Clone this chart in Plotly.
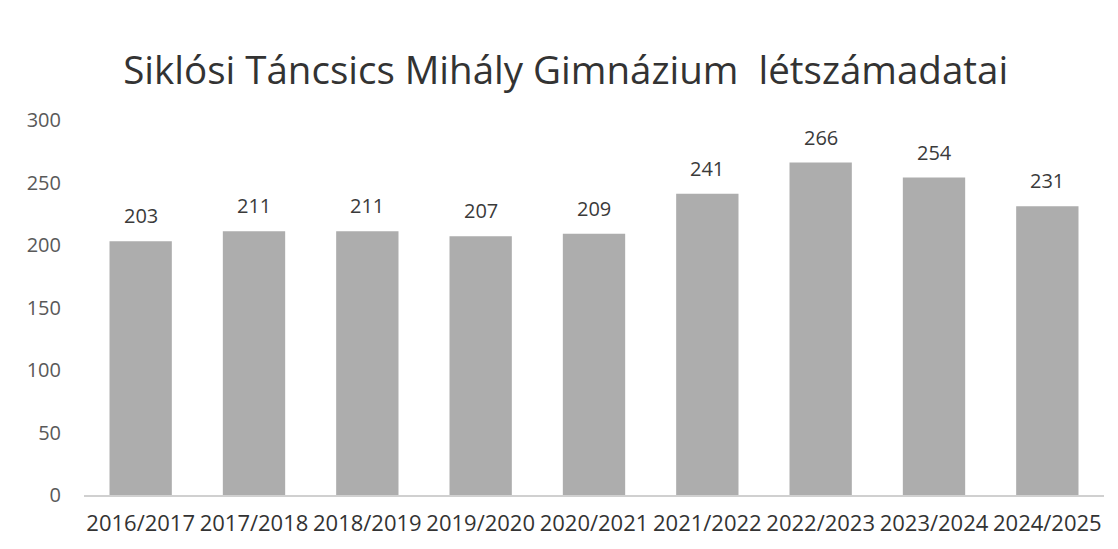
import plotly.graph_objects as go

categories = ["2016/2017", "2017/2018", "2018/2019", "2019/2020", "2020/2021",
              "2021/2022", "2022/2023", "2023/2024", "2024/2025"]
values = [203, 211, 211, 207, 209, 241, 266, 254, 231]
y_ticks = [0, 50, 100, 150, 200, 250, 300]
title_text = "Siklósi Táncsics Mihály Gimnázium  létszámadatai"

fig = go.Figure(go.Bar(
    x=categories, y=values,
    marker=dict(color="#adadad", line=dict(width=0)),
))

for c, v in zip(categories, values):
    fig.add_annotation(x=c, y=v, text=str(v), showarrow=False, yanchor="bottom",
                       yshift=10, font=dict(size=20, color="#3a3a3a", family="Open Sans"))

fig.update_layout(
    width=1118, height=549,
    margin=dict(l=84, r=14, t=120, b=54),
    paper_bgcolor="white", plot_bgcolor="white",
    bargap=0.45,
    showlegend=False,
    title=dict(text=title_text, x=0.506, xanchor="center", y=0.872, yanchor="middle",
               font=dict(size=38.5, color="#333333", family="Open Sans")),
    font=dict(family="Open Sans", color="#595959"),
)
fig.update_xaxes(showgrid=False, showline=True, linecolor="#d0d0d0", linewidth=1.5,
                 tickfont=dict(size=22, color="#333333"), ticks="", ticklabelstandoff=8)
fig.update_yaxes(range=[0, 300], tickvals=y_ticks, showgrid=False, zeroline=False,
                 showline=False, tickfont=dict(size=20, color="#595959"),
                 ticklabelstandoff=22)

fig.write_html("out.html", config={"displayModeBar": False},
               post_script="document.body.style.margin='0';")
